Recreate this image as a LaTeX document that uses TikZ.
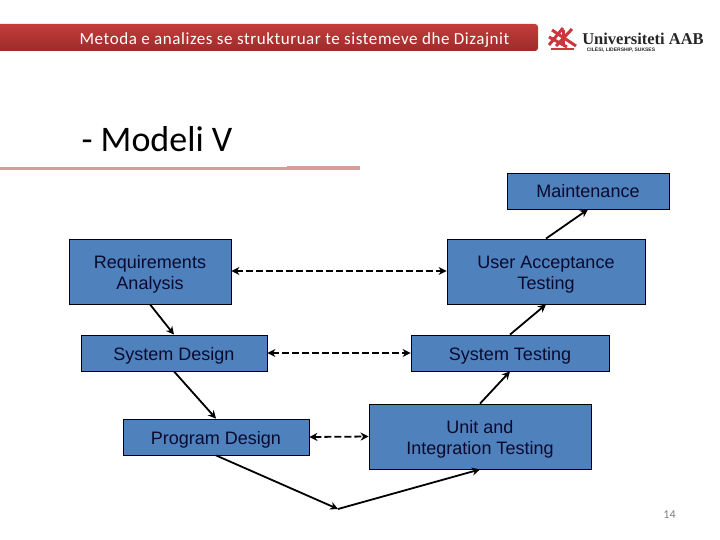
\documentclass[tikz,border=0pt]{standalone}
\usepackage{fontspec}
\setmainfont{Liberation Sans}
\newfontfamily\slidefont{Carlito}
\newfontfamily\logofont{Liberation Serif}
\usetikzlibrary{arrows.meta}
\definecolor{boxblue}{HTML}{4F81BD}
\definecolor{boxtext}{HTML}{0A0A2E}
\definecolor{barred}{HTML}{C43D3B}
\definecolor{bardark}{HTML}{9C2B2A}
\definecolor{rulered}{HTML}{D59C9B}
\definecolor{logored}{HTML}{C8383C}
\tikzset{
  stage/.style={draw=black,fill=boxblue,line width=0.8pt,text=boxtext,inner sep=0pt,
    align=center,font=\fontsize{18}{21}\selectfont,text height=17pt,text depth=3pt},
  stagetwo/.style={stage,text height=38pt,text depth=3pt},
  flow/.style={-{Stealth[length=8pt,width=8pt]},line width=1.8pt},
  link/.style={{Stealth[length=8pt,width=8pt]}-{Stealth[length=8pt,width=8pt]},
    line width=1.8pt,dash pattern=on 7pt off 3pt},
  logostroke/.style={logored,line width=3pt}
}
\begin{document}
\begin{tikzpicture}[x=1pt,y=-1pt]
      \useasboundingbox (0,0) rectangle (720,540);
      % header
      \node (bar) at (267.5,37.5) [minimum width=541pt,minimum height=27pt,inner sep=0pt,
        rounded corners=3pt,top color=barred,bottom color=bardark] {};
      \node (title) at (294.5,40) [text=white,font=\slidefont\fontsize{17}{20}\selectfont]
        {\addfontfeature{LetterSpace=3.3}Metoda e analizes se strukturuar te sistemeve dhe Dizajnit};
      \node (heading) at (157,139) [font=\slidefont\fontsize{36}{40}\selectfont] {- Modeli V};
      \node (page) at (669.5,515) [text=black!50,font=\slidefont\fontsize{12}{14}\selectfont] {14};
      % logo
      \draw[logostroke] (549,45) -- (563,28) (556,46) -- (572,29);
      \draw[logostroke] (552,30) -- (576,46) (549,37) -- (567,47);
      \draw[logostroke] (563,30) -- (563,45);
      \draw[logostroke,line width=1.2pt] (551,49) -- (574,49);
      \node (logoname) at (643,38.5) [inner sep=0pt,text=black!85,font=\logofont\bfseries\fontsize{16.5}{17}\selectfont] {Universiteti AAB};
      \node (logosub) at (621,49.5) [inner sep=0pt,text=black!85,font=\bfseries\fontsize{5}{6}\selectfont] {CILËSI, LIDERSHIP, SUKSES};
      % rule
      \fill[rulered] (0,167) rectangle (287,170);
      \fill[rulered] (287,166) rectangle (360,170);
      % stages
      \node[stage,minimum width=162pt,minimum height=36pt] (maint) at (588,191) {Maintenance};
      \node[stagetwo,minimum width=162pt,minimum height=65pt] (req) at (150,271.5) {Requirements\\Analysis};
      \node[stagetwo,minimum width=198pt,minimum height=65pt] (accept) at (546,271.5) {User Acceptance\\Testing};
      \node[stage,minimum width=186pt,minimum height=36pt] (sysdes) at (174,353) {System Design};
      \node[stage,minimum width=198pt,minimum height=36pt] (systest) at (510,353) {System Testing};
      \node[stage,minimum width=186pt,minimum height=36pt] (prog) at (216,437) {Program Design};
      \node[stagetwo,minimum width=222pt,minimum height=65pt] (unit) at (480,436.5) {Unit and\\Integration Testing};
      \coordinate (bottom) at (338,509);
      % flow
      \draw[flow] (req.south) to (sysdes.north);
      \draw[flow] (sysdes.south) to (prog.north);
      \draw[flow] (prog.south) to (bottom);
      \draw[flow] (bottom) to (unit.south);
      \draw[flow] (unit.north) to (systest.south);
      \draw[flow] (systest.north) to (accept.south);
      \draw[flow] (accept.north) to (maint.south);
      % links
      \draw[link] ([yshift=0.5pt]req.east) to ([yshift=0.5pt]accept.west);
      \draw[link] (sysdes.east) to (systest.west);
      \draw[link] (prog.east) to (unit.west);
    \end{tikzpicture}
\end{document}
